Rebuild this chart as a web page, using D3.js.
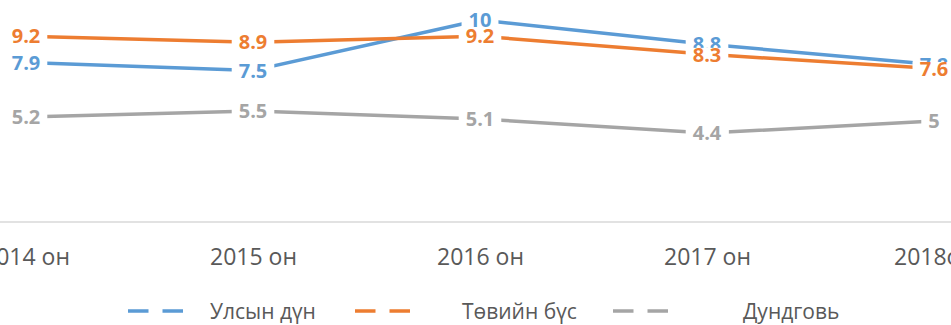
<!DOCTYPE html>
<html>
<head>
<meta charset="utf-8">
<script src="https://cdn.jsdelivr.net/npm/d3@7"></script>
<style>
  html, body { margin: 0; padding: 0; background: #fff; }
  svg { display: block; }
</style>
</head>
<body>
<div id="chart"></div>
<script>
// Years on the horizontal axis
const categories = ["2014 он", "2015 он", "2016 он", "2017 он", "2018он"];

// Series names and values
const seriesNames = ["Улсын дүн", "Төвийн бүс", "Дундговь"];
const nationalValues = [7.9, 7.5, 10, 8.8, 7.8];
const centralValues = [9.2, 8.9, 9.2, 8.3, 7.6];
const dundgoviValues = [5.2, 5.5, 5.1, 4.4, 5];

const seriesColors = ["#5b9bd5", "#ed7d31", "#a5a5a5"];

const series = [
  { name: seriesNames[0], values: nationalValues, color: seriesColors[0] },
  { name: seriesNames[1], values: centralValues, color: seriesColors[1] },
  { name: seriesNames[2], values: dundgoviValues, color: seriesColors[2] }
];

const width = 951, height = 325;
const svg = d3.select("#chart").append("svg")
  .attr("width", width).attr("height", height);

const font = "'Open Sans', 'Noto Sans', sans-serif";

const x = d3.scalePoint().domain(categories).range([26, 934]);
const y = d3.scaleLinear().domain([0, 10]).range([222, 20]);

// Baseline of the plot area
svg.append("line")
  .attr("x1", 0).attr("x2", width)
  .attr("y1", y(0)).attr("y2", y(0))
  .attr("stroke", "#d9d9d9").attr("stroke-width", 1.5);

// Category axis labels
const xAxis = d3.axisBottom(x).tickSize(0).tickPadding(0);
const axisG = svg.append("g").attr("transform", `translate(0,${y(0)})`).call(xAxis);
axisG.select(".domain").remove();
axisG.selectAll("text")
  .attr("y", 43).attr("dy", null)
  .attr("fill", "#595959")
  .style("font-family", font)
  .style("font-size", "23px");

// Lines
const line = d3.line()
  .x((d, i) => x(categories[i]))
  .y(d => y(d));

series.forEach(s => {
  svg.append("path")
    .datum(s.values)
    .attr("d", line)
    .attr("fill", "none")
    .attr("stroke", s.color)
    .attr("stroke-width", 3.5)
    .attr("stroke-linejoin", "round");
});

// Data labels with a white box that interrupts the line
series.forEach(s => {
  const g = svg.append("g");
  s.values.forEach((v, i) => {
    const lg = g.append("g")
      .attr("transform", `translate(${x(categories[i])},${y(v)})`);
    const rect = lg.append("rect").attr("fill", "#fff");
    const t = lg.append("text")
      .attr("text-anchor", "middle")
      .attr("dy", "0.36em")
      .attr("fill", s.color)
      .style("font-family", font)
      .style("font-weight", "bold")
      .style("font-size", "20px")
      .text(v);
    const bb = t.node().getBBox();
    rect.attr("x", bb.x - 7).attr("y", -6.5)
      .attr("width", bb.width + 14).attr("height", 13);
  });
});

// Legend
const legendItems = [
  { x0: 128, tx: 210 },
  { x0: 355, tx: 462 },
  { x0: 613, tx: 743 }
];
const legendY = 311;
series.forEach((s, i) => {
  const it = legendItems[i];
  svg.append("line")
    .attr("x1", it.x0).attr("x2", it.x0 + 55)
    .attr("y1", legendY).attr("y2", legendY)
    .attr("stroke", s.color)
    .attr("stroke-width", 3.5)
    .attr("stroke-dasharray", "20.5,14");
  svg.append("text")
    .attr("x", it.tx).attr("y", legendY)
    .attr("dy", "0.36em")
    .attr("fill", "#595959")
    .style("font-family", font)
    .style("font-size", "21px")
    .text(s.name);
});
</script>
</body>
</html>
